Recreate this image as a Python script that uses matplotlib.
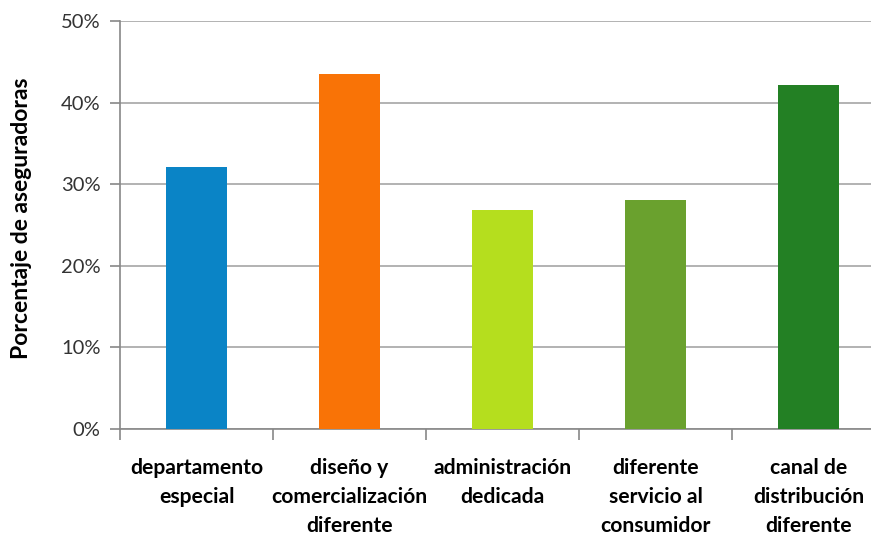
import matplotlib
matplotlib.use('Agg')
import matplotlib.pyplot as plt
import numpy as np
from matplotlib.ticker import FixedLocator, PercentFormatter

categories = ['departamento\nespecial',
              'diseño y\ncomercialización\ndiferente',
              'administración\ndedicada',
              'diferente\nservicio al\nconsumidor',
              'canal de\ndistribución\ndiferente']
values = [32.1, 43.5, 26.8, 28.1, 42.2]
colors = ['#0A84C6', '#F97306', '#B5DE1E', '#6AA12E', '#238024']
yticks = [0, 10, 20, 30, 40, 50]

plt.rcParams['font.family'] = ['Lato', 'DejaVu Sans']

fig = plt.figure(figsize=(8.71, 5.37), dpi=100)
W, H = 871, 537
ax = fig.add_axes([120 / W, 108 / H, 765 / W, 408 / H])

x = np.arange(len(categories))
ax.bar(x, values, width=0.4, color=colors, zorder=3)

ax.set_xlim(-0.5, len(categories) - 0.5)
ax.set_ylim(0, 50)
ax.set_yticks(yticks)
ax.yaxis.set_major_formatter(PercentFormatter(decimals=0))
ax.grid(axis='y', color='#A6A6A6', linewidth=1.2, zorder=0)

ax.set_xticks(x)
ax.set_xticklabels(categories, fontsize=15.2, fontweight='bold',
                   linespacing=1.55, va='top')
ax.xaxis.set_minor_locator(FixedLocator(np.arange(len(categories) + 1) - 0.5))
ax.tick_params(axis='x', which='major', length=0, pad=21)
ax.tick_params(axis='x', which='minor', length=8, color='#888888', width=1.2)
ax.tick_params(axis='y', length=7, color='#888888', width=1.2,
               labelsize=14.5, labelcolor='#333333', pad=7)

for side in ['top', 'right']:
    ax.spines[side].set_visible(False)
for side in ['left', 'bottom']:
    ax.spines[side].set_color('#888888')
    ax.spines[side].set_linewidth(1.2)

fig.text(22 / W, (537 - 218) / H, 'Porcentaje de aseguradoras', rotation=90,
         fontsize=16.5, fontweight='bold', ha='center', va='center')

fig.savefig('out.png', dpi=100)
